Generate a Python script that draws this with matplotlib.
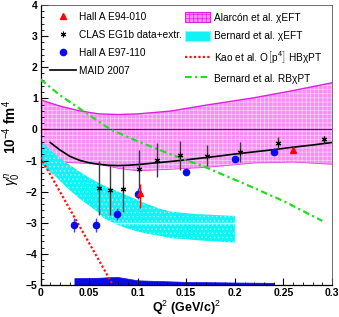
import matplotlib
matplotlib.use("Agg")
import matplotlib.pyplot as plt
from matplotlib.lines import Line2D
from matplotlib.patches import Patch
import numpy as np

plt.rcParams['font.family'] = ['Liberation Sans', 'DejaVu Sans']
plt.rcParams['mathtext.fontset'] = 'custom'
plt.rcParams['mathtext.rm'] = 'Liberation Sans'
plt.rcParams['mathtext.it'] = 'Liberation Sans:italic'
plt.rcParams['mathtext.bf'] = 'Liberation Sans:bold'

# ---- data ----
# Hall A E94-010
e94_x = [0.1028, 0.260]
e94_y = [-2.03, -0.67]
e94_elo = [0.50, 0.08]
e94_ehi = [0.28, 0.08]

# CLAS EG1b data+extr.
clas_x = [0.0597, 0.0711, 0.0845, 0.1014, 0.120, 0.144, 0.1709, 0.205, 0.2442, 0.292]
clas_y = [-1.89, -1.96, -1.90, -1.28, -0.99, -0.83, -0.84, -0.72, -0.44, -0.32]
clas_e = [0.87, 0.80, 0.74, 0.62, 0.55, 0.47, 0.35, 0.32, 0.20, 0.10]

# Hall A E97-110
e97_x = [0.0349, 0.0573, 0.079, 0.100, 0.150, 0.200, 0.2405]
e97_y = [-3.08, -3.08, -2.71, -2.06, -1.37, -0.96, -0.73]
e97_e = [0.22, 0.22, 0.20, 0.18, 0.08, 0.07, 0.07]
e97_sys = [-4.78, -4.77, -4.74, -4.85, -4.90, -4.92, -4.93]

# MAID 2007
maid_x = [0.01, 0.02, 0.03, 0.04, 0.05, 0.06, 0.07, 0.08, 0.09, 0.10, 0.11, 0.12,
          0.14, 0.16, 0.18, 0.20, 0.22, 0.24, 0.26, 0.28, 0.30]
maid_y = [-0.42, -0.66, -0.86, -0.99, -1.07, -1.12, -1.15, -1.16, -1.15, -1.13, -1.10,
          -1.07, -1.01, -0.94, -0.87, -0.79, -0.72, -0.65, -0.57, -0.50, -0.42]

# Alarcon et al. chiEFT band
alar_x = [0.0, 0.02, 0.04, 0.06, 0.08, 0.10, 0.134, 0.17, 0.22, 0.26, 0.30]
alar_hi = [0.95, 0.75, 0.60, 0.50, 0.48, 0.50, 0.59, 0.78, 1.02, 1.25, 1.50]
alar_lo = [-1.00, -1.05, -1.08, -1.12, -1.25, -1.33, -1.28, -1.22, -1.08, -1.05, -1.12]

# Bernard et al. chiEFT band
bern_x = [0.0, 0.0167, 0.027, 0.04, 0.05, 0.06, 0.065, 0.08, 0.089, 0.10, 0.11, 0.123,
          0.134, 0.15, 0.16, 0.20]
bern_hi = [-0.37, -0.85, -1.08, -1.35, -1.55, -1.72, -1.80, -2.00, -2.12, -2.27, -2.40,
           -2.55, -2.64, -2.69, -2.72, -2.78]
bern_lo = [-1.10, -1.55, -1.87, -2.22, -2.45, -2.68, -2.85, -3.08, -3.18, -3.28, -3.35,
           -3.42, -3.50, -3.53, -3.56, -3.64]

# Kao et al. O[p^4] HBchiPT
kao_x = [0.0, 0.0745]
kao_y = [-0.90, -5.0]

# Bernard et al. RBchiPT
rb_x = [0.0, 0.02, 0.044, 0.072, 0.10, 0.134, 0.171, 0.21, 0.25, 0.29]
rb_y = [1.61, 1.10, 0.59, 0.0, -0.38, -0.80, -1.23, -1.75, -2.30, -2.94]

xticks = [0, 0.05, 0.1, 0.15, 0.2, 0.25, 0.3]
xticklabels = ['0', '0.05', '0.1', '0.15', '0.2', '0.25', '0.3']
yticks = [-5, -4, -3, -2, -1, 0, 1, 2, 3, 4]

# ---- figure ----
W, H = 339, 317
fig = plt.figure(figsize=(W / 100, H / 100), dpi=100)
ax = fig.add_axes([40.5 / W, (H - 285) / H, (332 - 40.5) / W, (285 - 5) / H])
ax.set_xlim(0, 0.3)
ax.set_ylim(-5, 4)

pink = '#f78ef4'
cyan = '#10f2f4'

# Alarcon band
ax.fill_between(alar_x, alar_lo, alar_hi, facecolor=pink, edgecolor='none', zorder=1)
plt.rcParams['hatch.linewidth'] = 0.5
ax.fill_between(alar_x, alar_lo, alar_hi, facecolor='none', edgecolor='#fbd0fa',
                hatch='++++', linewidth=0, zorder=1.1)
ax.plot(alar_x, alar_hi, color='#e020e0', lw=1.0, zorder=1.2)
ax.plot(alar_x, alar_lo, color='#e040e0', lw=0.6, zorder=1.2)

# Bernard chiEFT band
ax.fill_between(bern_x, bern_lo, bern_hi, facecolor=cyan, edgecolor='none', zorder=1.3)
ax.fill_between(bern_x, bern_lo, bern_hi, facecolor='none', edgecolor='#a8f8f8',
                hatch='....', linewidth=0, zorder=1.31)
ax.hlines(-3.0, 0.07, 0.2, color='white', lw=1.0, zorder=1.35)

# E97-110 systematic band
ax.fill_between(e97_x, -5, e97_sys, facecolor='#0a0ae6', edgecolor='#0a0ae6', lw=0.5, zorder=1.4)

# zero line
ax.axhline(0, color='#333333', lw=0.8, zorder=1.5)

# theory curves
ax.plot(maid_x, maid_y, color='black', lw=1.2, zorder=3)
ax.plot(rb_x, rb_y, color='#22dd22', lw=1.6, linestyle=(0, (3, 1.5, 1, 1.5)), zorder=3)
ax.plot(kao_x, kao_y, color='#ff1010', lw=1.6, linestyle=(0, (1, 1)), zorder=3)

# data
ax.errorbar(clas_x, clas_y, yerr=clas_e, fmt='none', ecolor='#3a3a3a', elinewidth=1.0, zorder=4)
ax.plot(clas_x, clas_y, linestyle='none', marker=(6, 2, 0), color='black',
        markersize=4, markeredgewidth=0.8, zorder=5)
ax.errorbar(e97_x, e97_y, yerr=e97_e, fmt='o', color='#0a0af0', ecolor='#4040ff',
            markersize=4.5, elinewidth=1.0, zorder=6)
ax.errorbar(e94_x, e94_y, yerr=[e94_elo, e94_ehi], fmt='^', color='#ff0000',
            markersize=4.0, elinewidth=1.0, zorder=6)

# axes styling
ax.set_xticks(xticks)
ax.set_xticklabels(xticklabels)
ax.set_yticks(yticks)
ax.set_xticks(np.arange(0, 0.3001, 0.01), minor=True)
ax.set_yticks(np.arange(-5, 4.001, 0.2), minor=True)
ax.tick_params(which='both', direction='in', top=False, right=False)
ax.tick_params(which='major', length=5, width=0.8, labelsize=7.5, pad=2)
ax.tick_params(which='minor', length=2.5, width=0.6)
for lab in ax.get_xticklabels() + ax.get_yticklabels():
    lab.set_fontweight('bold')
for s in ['top', 'right']:
    ax.spines[s].set_color('#555555')
    ax.spines[s].set_linewidth(0.6)
for s in ['left', 'bottom']:
    ax.spines[s].set_linewidth(0.9)

ax.set_xlabel(r'Q$^{2}$ (GeV/c)$^{2}$', fontsize=9, fontweight='bold', labelpad=1)
fig.text(12 / W, 1 - 143 / H, r'$\gamma_0^n$     10$^{-4}$ fm$^{4}$', rotation=90,
         fontsize=9.8, fontweight='bold', ha='center', va='center')

# legends
fs = 7.3
h_left = [
    Line2D([], [], linestyle='none', marker='^', color='#ff0000', markersize=4),
    Line2D([], [], linestyle='none', marker=(6, 2, 0), color='black', markersize=4,
           markeredgewidth=0.8),
    Line2D([], [], linestyle='none', marker='o', color='#0a0af0', markersize=4.5),
    Line2D([], [], color='black', lw=1.2),
]
l_left = ['Hall A E94-010', 'CLAS EG1b data+extr.', 'Hall A E97-110', 'MAID 2007']
leg1 = fig.legend(h_left, l_left, loc='upper left', bbox_to_anchor=(50 / W, 1 - 12 / H),
                  frameon=False, fontsize=fs, handlelength=2.6, handletextpad=0.25,
                  labelspacing=0.78, borderpad=0, borderaxespad=0)
h_right = [
    Patch(facecolor=pink, edgecolor='#e020e0', hatch='++++', lw=0.8),
    Patch(facecolor=cyan, edgecolor='#80ffff', lw=0.8),
    Line2D([], [], color='#ff1010', lw=1.6, linestyle=(0, (1, 1))),
    Line2D([], [], color='#22dd22', lw=1.6, linestyle=(0, (3, 1.5, 1, 1.5))),
]
l_right = ['Alarcón et al. χEFT', 'Bernard et al. χEFT',
           r'Kao et al. O$\left[\mathrm{p}^{4}\right]$ HBχPT', 'Bernard et al. RBχPT']
leg2 = fig.legend(h_right, l_right, loc='upper left', bbox_to_anchor=(185 / W, 1 - 12 / H),
                  frameon=False, fontsize=fs, handlelength=2.5, handletextpad=0.4,
                  labelspacing=0.78, borderpad=0, borderaxespad=0, handleheight=1.2)

fig.savefig('out.png', dpi=100)
